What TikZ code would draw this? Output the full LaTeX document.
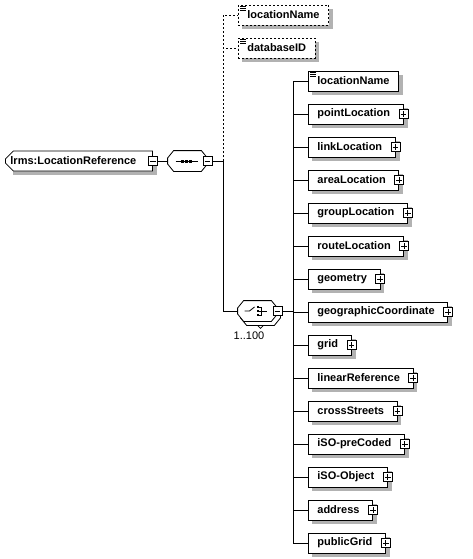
\documentclass[tikz,border=0pt]{standalone}
\usepackage{fontspec}
\setmainfont{Liberation Sans}
\usepackage{tikz}
\usetikzlibrary{shapes.misc, positioning, calc, backgrounds}
\definecolor{shadowgray}{RGB}{178,178,178}
\tikzstyle{elem} = [draw, fill=white, anchor=west, minimum height=20pt, inner xsep=9pt, inner ysep=0pt, font=\fontsize{11}{13}\selectfont\bfseries]
\tikzstyle{optelem} = [elem, dash pattern=on 2pt off 2pt]
\tikzstyle{comp} = [rectangle, minimum width=39pt, minimum height=20pt, inner sep=0pt]
\tikzstyle{pm} = [draw, fill=white, minimum size=9pt, inner sep=0pt]
\tikzstyle{optline} = [dash pattern=on 2pt off 2pt]
\tikzstyle{shadowfill} = [fill=shadowgray, draw=none]

% small marks on the boxes
\newcommand{\collapsemark}[1]{%
  \node[pm] (#1-m) at (#1.east) {};
  \draw ([xshift=2pt]#1-m.west) -- ([xshift=-2pt]#1-m.east);}
\newcommand{\expandmark}[1]{%
  \node[pm] (#1-m) at (#1.east) {};
  \draw ([xshift=2pt]#1-m.west) -- ([xshift=-2pt]#1-m.east)
        ([yshift=-2pt]#1-m.north) -- ([yshift=2pt]#1-m.south);}
\newcommand{\simplemark}[1]{%
  \foreach \d in {2,4,6} \draw ($(#1.north west)+(2,\d)$) -- ++(6,0);}
% octagon outline of a compositor node
\newcommand{\compshape}[2][]{%
  \draw[fill=white, #1] ($(#2.west)+(0,-3)$) -- ($(#2.north west)+(6,0)$) -- ($(#2.north east)+(-6,0)$)
    -- ($(#2.east)+(0,-3)$) -- ($(#2.east)+(0,3)$) -- ($(#2.south east)+(-6,0)$)
    -- ($(#2.south west)+(6,0)$) -- ($(#2.west)+(0,3)$) -- cycle;}

\begin{document}
\begin{tikzpicture}[x=1pt, y=-1pt, line width=0.8pt]
    \useasboundingbox (0,0) rectangle (472,559);

    % Root element
    \node[elem, chamfered rectangle, chamfered rectangle corners={north west,south west},
          chamfered rectangle xsep=4pt, chamfered rectangle ysep=4pt, inner xsep=1pt,
          minimum width=147pt] (root) at (5,161) {lrms:LocationReference\hspace*{11pt}};
    \collapsemark{root}

    % Sequence compositor
    \node[comp] (seq) at (187.5,161) {};
    \compshape{seq}
    \collapsemark{seq}
    \draw ([xshift=-12pt]seq.center) -- ([xshift=10pt]seq.center);
    \foreach \dx in {-5,-1,3} \fill ($(seq.center)+(\dx-1.5,-1.5)$) rectangle ++(3,3);
    \coordinate (seqjoin) at (223,161);

    % Optional elements
    \node[optelem] (optname) at (238,15) {locationName};
    \simplemark{optname}
    \node[optelem] (optid) at (238,48) {databaseID};
    \simplemark{optid}

    % Choice compositor (1..100)
    \node[comp] (choiceback) at (260.5,315) {};
    \compshape{choiceback}
    \draw ($(choiceback.south)+(-3,0)$) -- ++(3,3) -- ++(3,-3);
    \node[comp] (choice) at (257.5,311) {};
    \compshape{choice}
    \collapsemark{choice}
    \draw ($(choice.center)+(-13,0)$) -- ++(5,0) -- ++(5,-4);
    \foreach \dy in {-4,0,4} {
        \fill ($(choice.center)+(-1,\dy-1)$) rectangle ++(2,2);
        \draw ($(choice.center)+(1,\dy)$) -- ++(3,0);
    }
    \draw ($(choice.center)+(4,-4)$) -- ++(0,8) ($(choice.center)+(4,0)$) -- ++(5,0);
    \node[font=\fontsize{11}{13}\selectfont] (card) at (249,336) {1..100};
    \coordinate (choicejoin) at (293,311);

    % Children of the choice
    \foreach \nm [count=\i] in {locationName, pointLocation, linkLocation, areaLocation,
        groupLocation, routeLocation, geometry, geographicCoordinate, grid, linearReference,
        crossStreets, iSO-preCoded, iSO-Object, address, publicGrid} {
        \node[elem] (c\i) at (308,{81+33*(\i-1)}) {\nm\ifnum\i>1\hspace*{4pt}\fi};
        \ifnum\i>1 \expandmark{c\i} \else \simplemark{c\i} \fi
    }

    % Connectors
    \draw (root-m.east) -- (seq.west);
    \draw (seq-m.east) -- (seqjoin);
    \draw[optline] (seqjoin) |- (optname.west);
    \draw[optline] (seqjoin) |- (optid.west);
    \draw (seqjoin) |- (choice.west);
    \draw (choice-m.east) -- (choicejoin);
    \foreach \i in {1,...,15} \draw (choicejoin) |- (c\i.west);

    % Background and shadows
    \begin{scope}[on background layer]
        \fill[white] (0,0) rectangle (472,559);
        \foreach \n in {root, optname, optid, c1, c2, c3, c4, c5, c6, c7, c8, c9, c10, c11, c12, c13, c14, c15}
            \fill[shadowfill] ($(\n.north west)+(4,4)$) rectangle ($(\n.south east)+(4,4)$);
        \compshape[shadowfill, shift={(4,4)}]{seq}
        \compshape[shadowfill, shift={(4,4)}]{choiceback}
    \end{scope}
\end{tikzpicture}
\end{document}
